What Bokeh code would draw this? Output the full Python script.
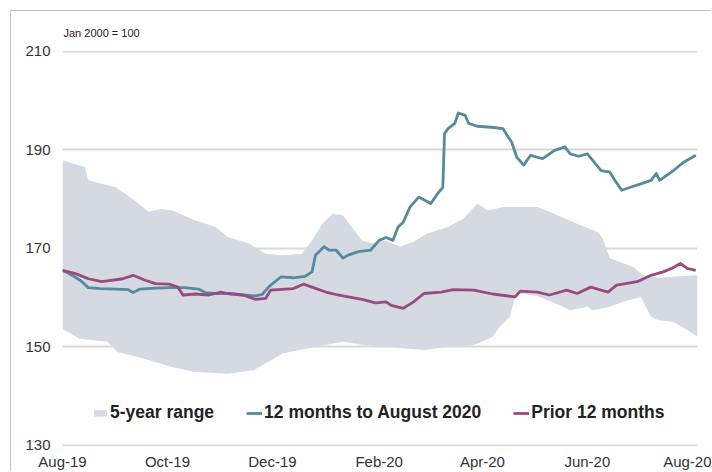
import pandas as pd
from bokeh.plotting import figure
from bokeh.models import Range1d, FixedTicker, DatetimeTickFormatter, Legend, LegendItem
from bokeh.embed import file_html
from bokeh.resources import INLINE

# ---- data ----
band_upper_dates = ["2019-08-01", "2019-08-14", "2019-08-16", "2019-09-01", "2019-09-12", "2019-09-20",
                    "2019-09-27", "2019-10-04", "2019-10-17", "2019-10-29", "2019-11-05", "2019-11-17",
                    "2019-11-27", "2019-12-07", "2019-12-18", "2019-12-24", "2019-12-30", "2020-01-05",
                    "2020-01-11", "2020-01-16", "2020-01-22", "2020-01-28", "2020-02-05", "2020-02-13",
                    "2020-02-21", "2020-02-29", "2020-03-12", "2020-03-21", "2020-03-29", "2020-04-04",
                    "2020-04-13", "2020-05-03", "2020-05-12", "2020-05-26", "2020-06-07", "2020-06-10",
                    "2020-06-14", "2020-06-20", "2020-06-28", "2020-07-03", "2020-07-13", "2020-07-25",
                    "2020-08-04"]
band_upper = [187.9, 186.5, 183.8, 182.4, 179.7, 177.4,
              178.0, 177.7, 175.7, 174.3, 172.3, 171.0,
              168.9, 168.6, 168.9, 171.6, 175.0, 177.0,
              176.7, 174.3, 171.6, 171.0, 171.6, 170.3,
              171.3, 173.0, 174.3, 176.0, 179.1, 177.7,
              178.4, 178.4, 177.1, 175.0, 173.3, 172.0,
              168.0, 167.2, 166.2, 164.5, 164.0, 164.3,
              164.5]

band_lower_dates = ["2019-08-01", "2019-08-11", "2019-08-27", "2019-09-02", "2019-09-17", "2019-10-03",
                    "2019-10-16", "2019-11-05", "2019-11-20", "2019-12-07", "2019-12-26", "2020-01-11",
                    "2020-01-24", "2020-02-05", "2020-02-27", "2020-03-12", "2020-03-27", "2020-04-07",
                    "2020-04-11", "2020-04-17", "2020-04-20", "2020-04-23", "2020-05-03", "2020-05-16",
                    "2020-05-22", "2020-06-01", "2020-06-04", "2020-06-13", "2020-06-24", "2020-07-02",
                    "2020-07-08", "2020-07-12", "2020-07-21", "2020-07-29", "2020-08-04"]
band_lower = [153.6, 151.6, 151.0, 148.9, 147.6, 145.9,
              144.9, 144.5, 145.2, 148.6, 150.0, 151.0,
              150.3, 150.0, 149.3, 150.0, 150.3, 152.0,
              154.0, 156.0, 160.1, 160.8, 160.3, 158.4,
              157.4, 158.1, 157.4, 158.0, 159.4, 160.1,
              156.0, 155.4, 155.0, 153.4, 152.0]

current_dates = ["2019-08-01", "2019-08-04", "2019-08-08", "2019-08-12", "2019-08-16", "2019-08-23",
                 "2019-09-01", "2019-09-08", "2019-09-11", "2019-09-15", "2019-09-24", "2019-10-03",
                 "2019-10-11", "2019-10-19", "2019-10-23", "2019-10-29", "2019-11-05", "2019-11-14",
                 "2019-11-21", "2019-11-25", "2019-11-29", "2019-12-06", "2019-12-13", "2019-12-20",
                 "2019-12-24", "2019-12-26", "2019-12-31", "2020-01-03", "2020-01-07", "2020-01-11",
                 "2020-01-14", "2020-01-20", "2020-01-27", "2020-02-01", "2020-02-05", "2020-02-09",
                 "2020-02-12", "2020-02-15", "2020-02-19", "2020-02-24", "2020-03-02", "2020-03-06",
                 "2020-03-09", "2020-03-10", "2020-03-12", "2020-03-16", "2020-03-18", "2020-03-22",
                 "2020-03-24", "2020-03-29", "2020-04-06", "2020-04-13", "2020-04-16", "2020-04-18",
                 "2020-04-21", "2020-04-25", "2020-04-29", "2020-05-06", "2020-05-13", "2020-05-19",
                 "2020-05-22", "2020-05-27", "2020-06-01", "2020-06-04", "2020-06-09", "2020-06-14",
                 "2020-06-17", "2020-06-21", "2020-06-26", "2020-07-02", "2020-07-08", "2020-07-11",
                 "2020-07-13", "2020-07-21", "2020-07-27", "2020-08-03"]
current_values = [165.5, 165.0, 164.2, 163.3, 162.0, 161.8,
                  161.7, 161.6, 161.0, 161.7, 161.9, 162.0,
                  162.0, 161.7, 161.0, 160.8, 160.8, 160.5,
                  160.3, 160.6, 162.2, 164.2, 164.0, 164.3,
                  165.2, 168.6, 170.3, 169.6, 169.6, 168.0,
                  168.6, 169.3, 169.6, 171.6, 172.2, 171.6,
                  174.3, 175.3, 178.4, 180.4, 179.1, 181.1,
                  182.4, 193.3, 194.3, 195.4, 197.5, 197.0,
                  195.4, 194.8, 194.6, 194.3, 192.6, 191.6,
                  188.5, 186.9, 188.9, 188.2, 189.9, 190.6,
                  189.2, 188.7, 189.2, 187.9, 185.8, 185.5,
                  183.8, 181.8, 182.4, 183.1, 183.8, 185.2,
                  183.8, 185.8, 187.5, 188.9]

prior_dates = ["2019-08-01", "2019-08-09", "2019-08-16", "2019-08-24", "2019-09-05", "2019-09-11",
               "2019-09-18", "2019-09-24", "2019-10-02", "2019-10-07", "2019-10-10", "2019-10-17",
               "2019-10-25", "2019-11-01", "2019-11-05", "2019-11-14", "2019-11-21", "2019-11-27",
               "2019-11-30", "2019-12-13", "2019-12-19", "2019-12-24", "2020-01-01", "2020-01-08",
               "2020-01-14", "2020-01-22", "2020-01-30", "2020-02-05", "2020-02-08", "2020-02-15",
               "2020-02-21", "2020-02-27", "2020-03-08", "2020-03-15", "2020-03-27", "2020-04-07",
               "2020-04-20", "2020-04-23", "2020-05-03", "2020-05-10", "2020-05-20", "2020-05-26",
               "2020-06-03", "2020-06-13", "2020-06-18", "2020-06-30", "2020-07-08", "2020-07-15",
               "2020-07-20", "2020-07-25", "2020-07-29", "2020-08-03"]
prior_values = [165.5, 164.8, 163.8, 163.2, 163.8, 164.5,
                163.5, 162.8, 162.7, 162.1, 160.5, 160.7,
                160.5, 161.1, 160.8, 160.5, 159.6, 159.8,
                161.5, 161.8, 162.7, 162.1, 161.1, 160.5,
                160.1, 159.6, 158.9, 159.1, 158.4, 157.8,
                159.1, 160.8, 161.1, 161.6, 161.5, 160.7,
                160.1, 161.3, 161.1, 160.5, 161.5, 160.8,
                162.1, 161.1, 162.5, 163.2, 164.5, 165.2,
                165.9, 166.9, 165.9, 165.5]

y_ticks = [130, 150, 170, 190, 210]
x_tick_dates = ["2019-08-01", "2019-10-01", "2019-12-01", "2020-02-01",
                "2020-04-01", "2020-06-01", "2020-08-01"]
x_start, x_end = "2019-08-01", "2020-08-04"
y_start, y_end = 129.7, 210.2

series_names = ["5-year range", "12 months to August 2020", "Prior 12 months"]
note_text = "Jan 2000 = 100"

# ---- styles ----
BAND = "#d5d9e1"
TEAL = "#558b9c"
PURPLE = "#9a4b7d"
FONT = "Liberation Sans"

to_dt = lambda s: pd.to_datetime(s)

p = figure(width=701, height=461, x_axis_type="datetime",
           x_range=Range1d(to_dt(x_start), to_dt(x_end)),
           y_range=Range1d(y_start, y_end),
           output_backend="svg", toolbar_location=None,
           title=note_text,
           min_border_left=51, min_border_right=15, min_border_top=39, min_border_bottom=21)
p.styles = {"border-left": "1px solid #b9c1d2", "border-top": "1px solid #b9c1d2",
            "margin-left": "10px", "margin-top": "10px"}
p.outline_line_color = None
p.background_fill_color = "white"
p.border_fill_color = "white"

p.title.align = "left"
p.title.text_font = FONT
p.title.text_font_size = "11px"
p.title.text_font_style = "normal"
p.title.text_color = "#222222"
p.title.standoff = 23
p.title.offset = 1

# band as polygon: upper edge then lower edge reversed
bx = list(to_dt(band_upper_dates)) + list(to_dt(band_lower_dates))[::-1]
by = band_upper + band_lower[::-1]
r_band = p.patch(bx, by, fill_color=BAND, line_color=None)

r_cur = p.line(to_dt(current_dates), current_values, line_color=TEAL, line_width=2.8,
               line_join="round")
r_prior = p.line(to_dt(prior_dates), prior_values, line_color=PURPLE, line_width=2.8,
                 line_join="round")

# axes
p.xgrid.grid_line_color = None
p.ygrid.grid_line_color = "#d9d9d9"
p.ygrid.grid_line_width = 2
p.yaxis.ticker = FixedTicker(ticks=y_ticks)
p.xaxis.ticker = FixedTicker(ticks=[to_dt(d).value / 1e6 for d in x_tick_dates])
p.xaxis.formatter = DatetimeTickFormatter(days="%b-%y", months="%b-%y", years="%b-%y")
for ax in (p.xaxis[0], p.yaxis[0]):
    ax.axis_line_color = None
    ax.major_tick_line_color = None
    ax.minor_tick_line_color = None
    ax.major_tick_out = 0
    ax.minor_tick_out = 0
    ax.major_label_text_font = FONT
    ax.major_label_text_font_size = "15px"
    ax.major_label_text_color = "#333333"
p.yaxis.major_label_standoff = 12
p.xaxis.major_label_standoff = 6

legend = Legend(items=[LegendItem(label=series_names[0], renderers=[r_band]),
                       LegendItem(label=series_names[1], renderers=[r_cur]),
                       LegendItem(label=series_names[2], renderers=[r_prior])],
                orientation="horizontal", location=(30, 23),
                padding=0, margin=0, spacing=32, glyph_width=16, glyph_height=8,
                label_standoff=2, label_text_font=FONT, label_text_font_size="17.5px",
                label_text_font_style="bold", label_text_color="#222222",
                background_fill_alpha=0, border_line_color=None)
p.add_layout(legend)

open("out.html", "w").write(file_html(p, INLINE))
